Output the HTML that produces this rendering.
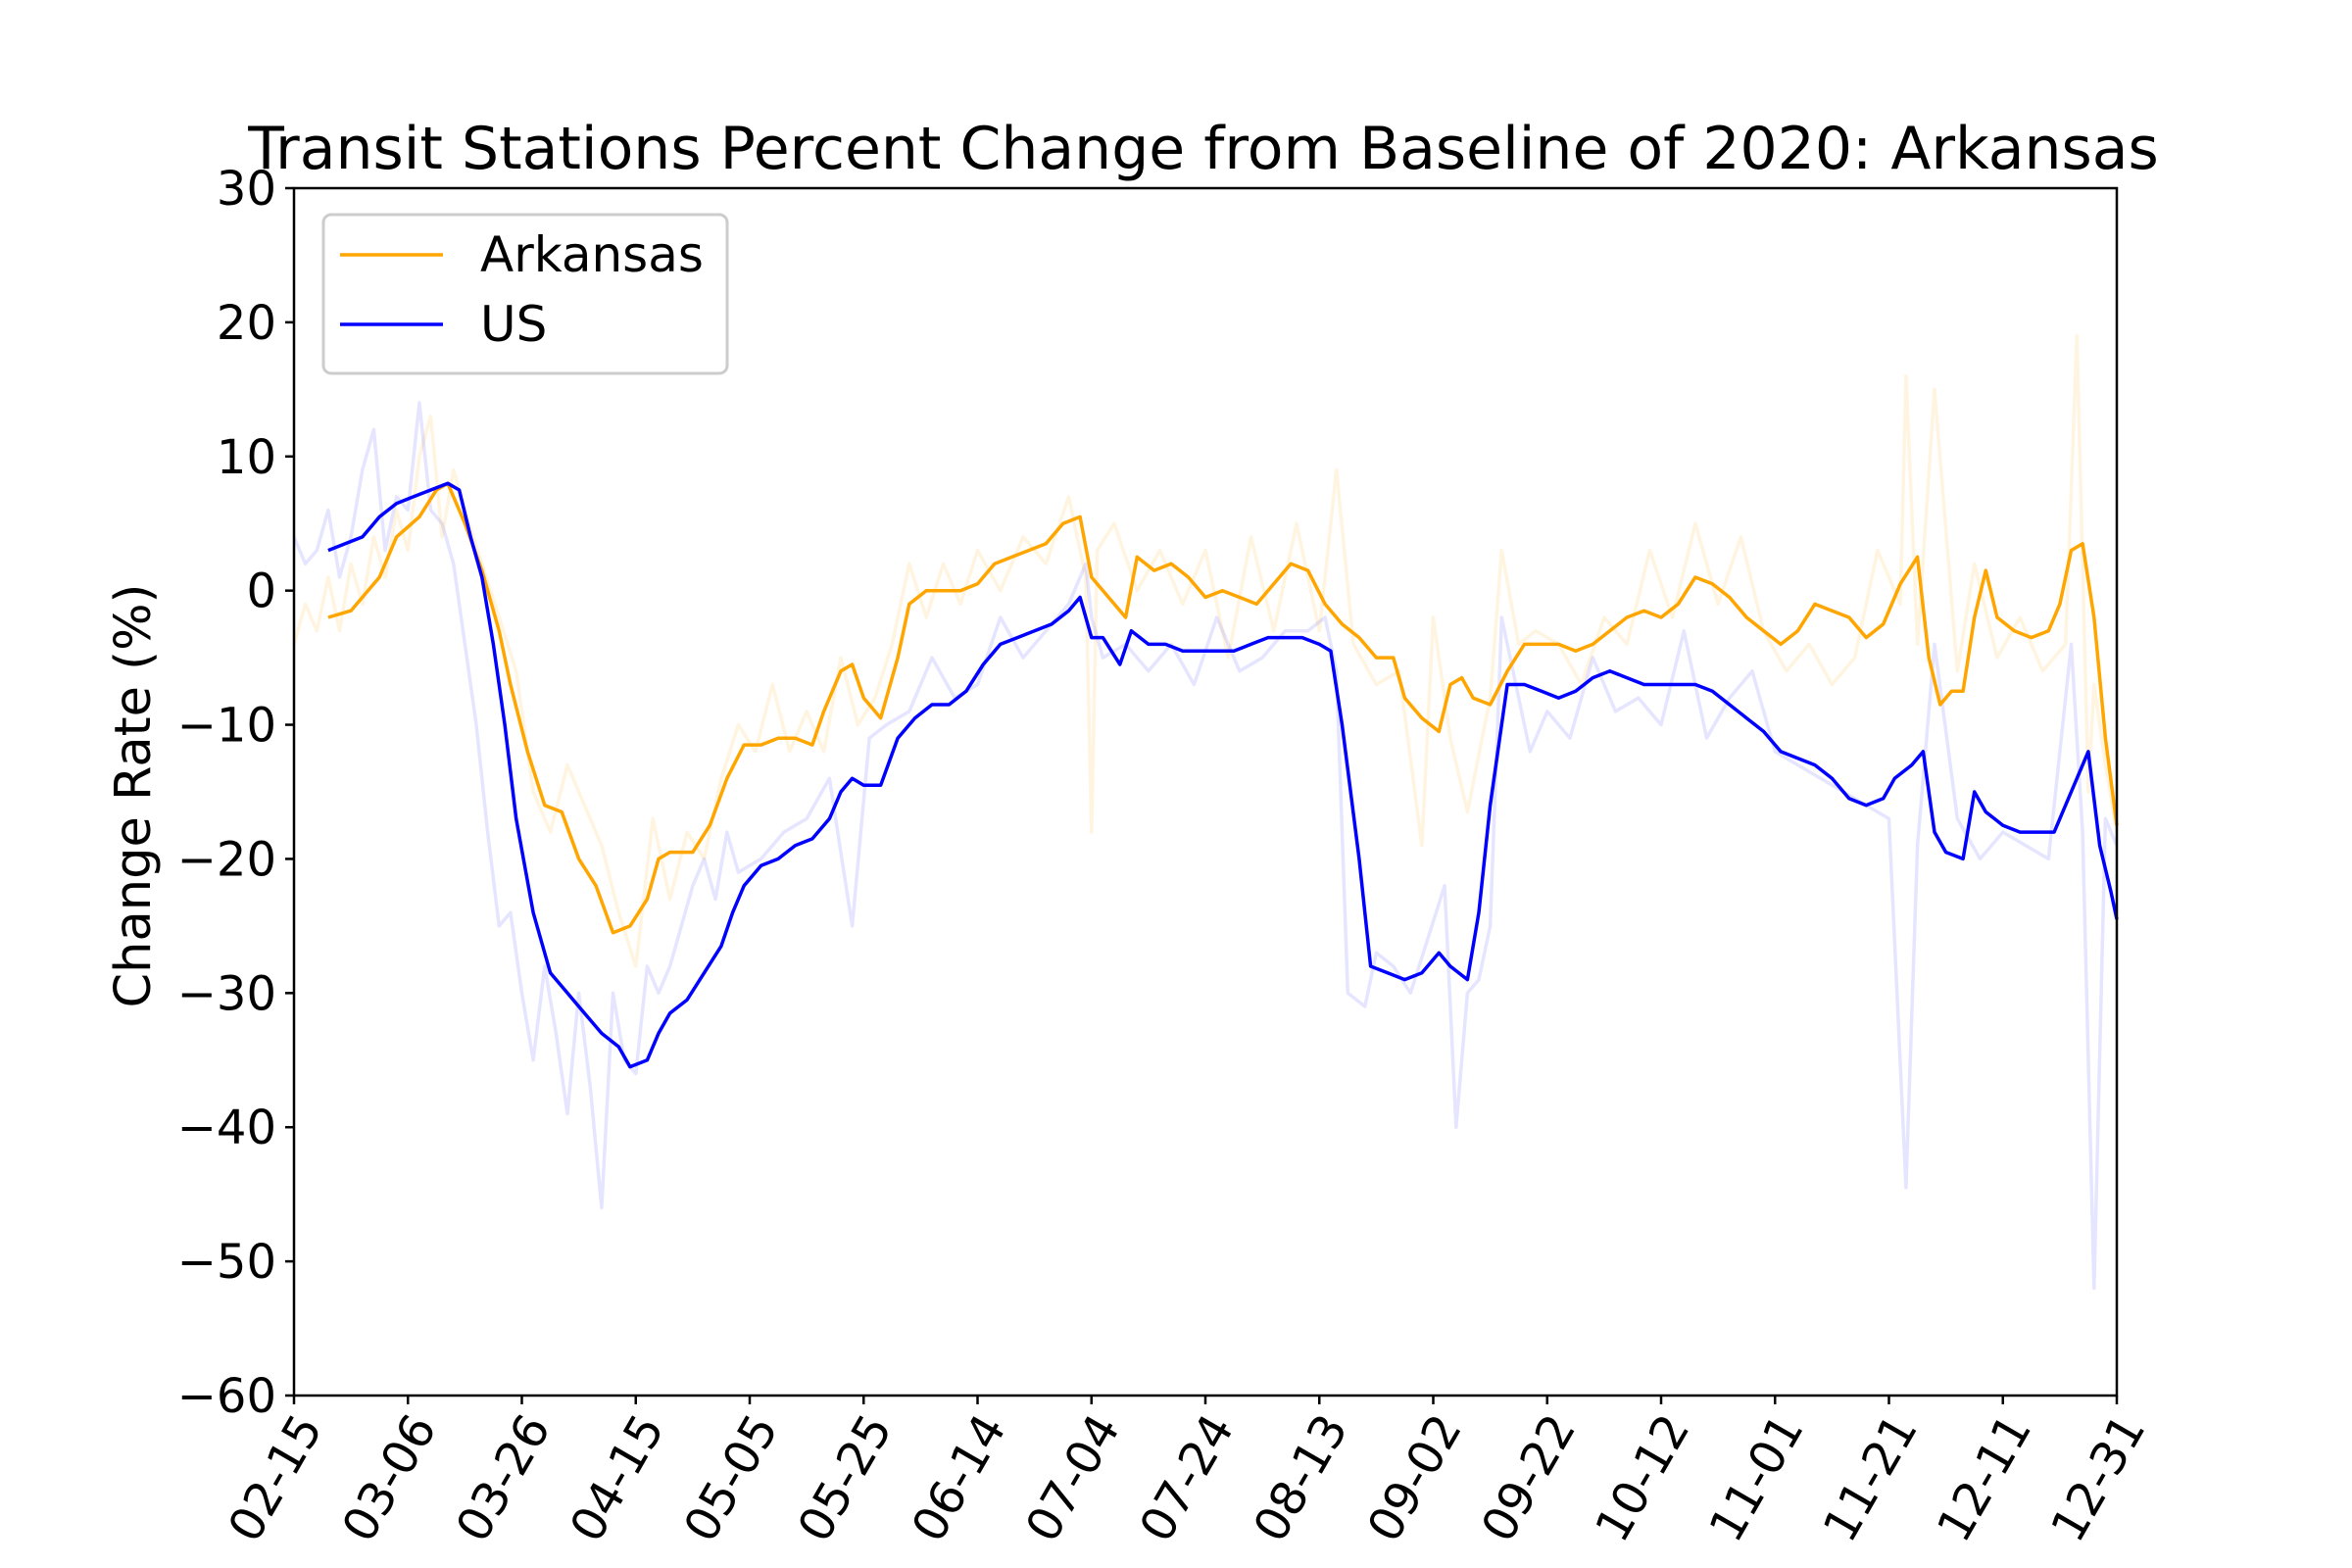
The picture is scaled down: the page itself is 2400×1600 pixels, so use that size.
<!DOCTYPE html>
<html><head><meta charset="utf-8"><style>
html,body{margin:0;padding:0;background:#fff}
svg{display:block}
text{font-family:"DejaVu Sans","Liberation Sans",sans-serif;fill:#000}
</style></head><body>
<svg id="chart" width="2400" height="1600" viewBox="0 0 2400 1600" xmlns="http://www.w3.org/2000/svg">
<text x="1228" y="172" font-size="60" text-anchor="middle">Transit Stations Percent Change from Baseline of 2020: Arkansas</text>
<g id="plot"></g>
<rect x="300" y="192" width="1860" height="1232" fill="none" stroke="#000" stroke-width="2.5"/>
<g id="yticks"></g>
<g id="xticks"></g>
<text transform="translate(153,812) rotate(-90)" font-size="51" text-anchor="middle">Change Rate (%)</text>
<g>
<rect x="330" y="219" width="412" height="162" rx="8" fill="#fff" fill-opacity="0.8" stroke="#ccc" stroke-width="3"/>
<line x1="347" y1="260" x2="452" y2="260" stroke="orange" stroke-width="3.5"/>
<text x="490" y="277" font-size="50">Arkansas</text>
<line x1="347" y1="331" x2="452" y2="331" stroke="blue" stroke-width="3.5"/>
<text x="490" y="348" font-size="50">US</text>
</g>
</svg>
<script>
const xTickLabels=["02-15","03-06","03-26","04-15","05-05","05-25","06-14","07-04","07-24","08-13","09-02","09-22","10-12","11-01","11-21","12-11","12-31"];
const yTickValues=[-60,-50,-40,-30,-20,-10,0,10,20,30];
const arDays=[6,10,15,18,22,25,27,30,33,36,38,41,44,47,50,53,56,59,62,64,66,70,73,76,79,82,85,88,91,93,96,98,100,103,106,108,111,114,117,120,123,126,129,132,135,138,140,143,146,148,151,154,157,160,163,166,169,172,175,178,181,184,187,190,193,195,198,201,203,205,207,210,213,216,219,222,225,228,231,234,237,240,243,246,249,252,255,258,261,264,267,270,273,276,279,282,285,287,289,291,293,295,297,299,302,305,308,310,312,314,316,318,320];
const arValues=[-2,-1.5,1,4,5.5,7.5,8,5,1.5,-3,-7,-12,-16,-16.5,-20,-22,-25.5,-25,-23,-20,-19.5,-19.5,-17.5,-14,-11.5,-11.5,-11,-11,-11.5,-9,-6,-5.5,-8,-9.5,-5,-1,0,0,0,0.5,2,2.5,3,3.5,5,5.5,1,-0.5,-2,2.5,1.5,2,1,-0.5,0,-0.5,-1,0.5,2,1.5,-1,-2.5,-3.5,-5,-5,-8,-9.5,-10.5,-7,-6.5,-8,-8.5,-6,-4,-4,-4,-4.5,-4,-3,-2,-1.5,-2,-1,1,0.5,-0.5,-2,-3,-4,-3,-1,-1.5,-2,-3.5,-2.5,0.5,2.5,-5,-8.5,-7.5,-7.5,-2,1.5,-2,-3,-3.5,-3,-1,3,3.5,-2,-11,-17.5];
const usDays=[6,9,12,15,18,21,24,27,29,31,33,35,37,39,42,45,48,51,54,57,59,62,64,66,69,72,75,77,79,82,85,88,91,94,96,98,100,103,106,109,112,115,118,121,124,127,130,133,136,138,140,142,145,147,150,153,156,159,162,165,168,171,174,177,180,182,184,187,189,192,195,198,201,203,206,208,210,213,216,219,222,225,228,231,234,237,240,243,246,249,252,255,258,261,264,267,270,273,276,279,281,284,286,288,290,293,295,297,300,303,306,309,311,313,315,317,319,320];
const usValues=[3,3.5,4,5.5,6.5,7,7.5,8,7.5,4,1,-4,-10,-17,-24,-28.5,-30,-31.5,-33,-34,-35.5,-35,-33,-31.5,-30.5,-28.5,-26.5,-24,-22,-20.5,-20,-19,-18.5,-17,-15,-14,-14.5,-14.5,-11,-9.5,-8.5,-8.5,-7.5,-5.5,-4,-3.5,-3,-2.5,-1.5,-0.5,-3.5,-3.5,-5.5,-3,-4,-4,-4.5,-4.5,-4.5,-4.5,-4,-3.5,-3.5,-3.5,-4,-4.5,-10,-20,-28,-28.5,-29,-28.5,-27,-28,-29,-24,-16,-7,-7,-7.5,-8,-7.5,-6.5,-6,-6.5,-7,-7,-7,-7,-7.5,-8.5,-9.5,-10.5,-12,-12.5,-13,-14,-15.5,-16,-15.5,-14,-13,-12,-18,-19.5,-20,-15,-16.5,-17.5,-18,-18,-18,-16,-14,-12,-19,-22.5,-24.5];
const arRawDays=[0,2,4,6,8,10,12,14,16,18,20,22,24,26,28,30,33,36,39,42,45,48,51,54,57,60,63,66,69,72,75,78,81,84,87,90,93,96,99,102,105,108,111,114,117,120,124,128,132,136,139,140,141,144,148,152,156,160,164,168,172,176,180,183,186,190,194,198,200,203,206,210,212,215,218,222,226,230,234,238,242,246,250,254,258,262,266,270,274,278,282,283,285,288,292,295,299,303,307,311,313,315,316,318,320];
const arRawValues=[-4,-1,-3,1,-3,2,-1,4,1,6,3,10,13,4,9,6,2,-2,-6,-15,-18,-13,-16,-19,-24,-28,-17,-23,-18,-20,-14,-10,-12,-7,-12,-9,-12,-5,-10,-8,-4,2,-2,2,-1,3,0,4,2,7,1,-18,3,5,0,3,-1,3,-5,4,-3,5,-3,9,-4,-7,-6,-19,-2,-11,-16.5,-8,3,-4,-3,-4,-7,-2,-4,3,-2,5,-1,4,-3,-6,-4,-7,-5,3,-1,16,-4,15,-6,2,-5,-2,-6,-4,19,-15,-7,-13,-18];
const usRawDays=[0,2,4,6,8,10,12,14,16,18,20,22,24,26,28,30,32,34,36,38,40,42,44,46,48,50,52,54,56,58,60,62,64,66,68,70,72,74,76,78,82,86,90,94,98,101,104,108,112,116,120,124,128,132,136,139,140,142,146,150,154,158,162,166,170,174,178,181,183,185,188,190,193,196,199,202,204,206,208,210,212,214,217,220,224,228,232,236,240,244,248,252,256,260,264,268,272,276,280,283,285,288,292,296,300,304,308,312,314,316,318,320];
const usRawValues=[4,2,3,6,1,4,9,12,3,7,6,14,6,5,2,-4,-10,-18,-25,-24,-30,-35,-28,-33,-39,-30,-37,-46,-30,-35,-36,-28,-30,-28,-25,-22,-20,-23,-18,-21,-20,-18,-17,-14,-25,-11,-10,-9,-5,-8,-7,-2,-5,-3,-1,2,-2,-5,-4,-6,-4,-7,-2,-6,-5,-3,-3,-2,-6,-30,-31,-27,-28,-30,-26,-22,-40,-30,-29,-25,-2,-6,-12,-9,-11,-5,-9,-8,-10,-3,-11,-8,-6,-12,-13,-14,-15,-16,-17,-44.5,-19,-4,-17,-20,-18,-19,-20,-4,-18,-52,-17,-19];

const L=300,R=2160,T=192,B=1424,D0=0,D1=320,Y0=-60,Y1=30;
const xs=d=>L+(d-D0)/(D1-D0)*(R-L);
const ys=v=>B-(v-Y0)/(Y1-Y0)*(B-T);
const NS="http://www.w3.org/2000/svg";
const plot=document.getElementById('plot');
function path(days,vals,color,op,w,name){
  const p=document.createElementNS(NS,'path');
  p.setAttribute('d',days.map((d,i)=>(i?'L':'M')+xs(d).toFixed(1)+' '+ys(vals[i]).toFixed(1)).join(''));
  p.setAttribute('fill','none');p.setAttribute('stroke',color);p.setAttribute('stroke-opacity',op);
  p.setAttribute('stroke-width',w);p.setAttribute('stroke-linejoin','round');
  
  
  plot.appendChild(p);
}
path(arRawDays,arRawValues,'orange',0.12,3.5,'arkansas-raw-line');
path(usRawDays,usRawValues,'blue',0.1,3.5,'us-raw-line');
path(arDays,arValues,'orange',1,3.5,'arkansas-line');
path(usDays,usValues,'blue',1,3.5,'us-line');

const yg=document.getElementById('yticks');
yTickValues.forEach(v=>{
  const y=ys(v);
  const l=document.createElementNS(NS,'line');
  l.setAttribute('x1',L-9);l.setAttribute('x2',L);l.setAttribute('y1',y);l.setAttribute('y2',y);
  l.setAttribute('stroke','#000');l.setAttribute('stroke-width','2.5');
  
  
  yg.appendChild(l);
  const t=document.createElementNS(NS,'text');
  t.setAttribute('x',L-18);t.setAttribute('y',y+17);t.setAttribute('font-size','48');t.setAttribute('text-anchor','end');
  t.textContent=(v<0?'\u2212':'')+Math.abs(v);
  
  
  yg.appendChild(t);
});
const xg=document.getElementById('xticks');
xTickLabels.forEach((s,i)=>{
  const x=xs(i*20);
  const l=document.createElementNS(NS,'line');
  l.setAttribute('x1',x);l.setAttribute('x2',x);l.setAttribute('y1',B);l.setAttribute('y2',B+9);
  l.setAttribute('stroke','#000');l.setAttribute('stroke-width','2.5');
  
  
  xg.appendChild(l);
  const t=document.createElementNS(NS,'text');
  t.setAttribute('transform','translate('+(x+30)+','+(B+32)+') rotate(-60)');
  t.setAttribute('font-size','48');t.setAttribute('text-anchor','end');
  t.textContent=s;
  
  
  xg.appendChild(t);
});
</script>
</body></html>
